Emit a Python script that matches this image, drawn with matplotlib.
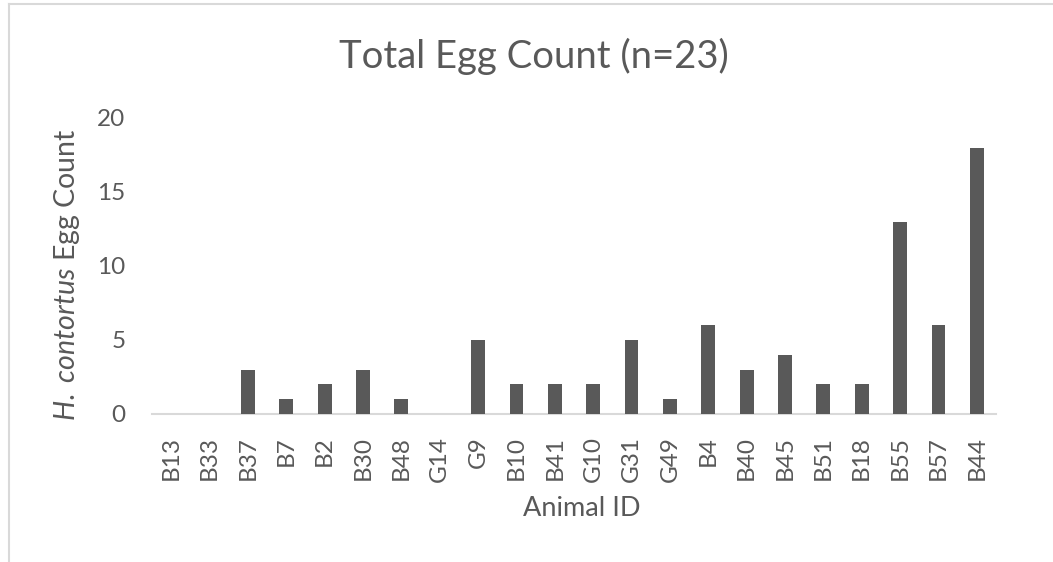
import matplotlib
matplotlib.use("Agg")
import matplotlib.pyplot as plt
from matplotlib.lines import Line2D

# Egg counts per animal
animal_ids = ["B13", "B33", "B37", "B7", "B2", "B30", "B48", "G14", "G9", "B10", "B41",
              "G10", "G31", "G49", "B4", "B40", "B45", "B51", "B18", "B55", "B57", "B44"]
egg_counts = [0, 0, 3, 1, 2, 3, 1, 0, 5, 2, 2, 2, 5, 1, 6, 3, 4, 2, 2, 13, 6, 18]
y_ticks = [0, 5, 10, 15, 20]

plt.rcParams['font.family'] = ['Lato', 'DejaVu Sans']
plt.rcParams['mathtext.fontset'] = 'custom'
plt.rcParams['mathtext.it'] = 'Lato:italic'
plt.rcParams['mathtext.rm'] = 'Lato'

txt = '#595959'
W, H = 1053, 562
fig = plt.figure(figsize=(W / 100, H / 100), dpi=100, facecolor='w')

# plot area in pixel coords
x0, x1, y0, y1 = 152, 996, 414, 118
ax = fig.add_axes([x0 / W, 1 - y0 / H, (x1 - x0) / W, (y0 - y1) / H])

xs = range(len(animal_ids))
ax.bar(xs, egg_counts, width=0.36, color='#595959', zorder=3)

ax.set_xlim(-0.5, len(animal_ids) - 0.5)
ax.set_ylim(0, 20)
ax.set_yticks(y_ticks)
ax.set_xticks(list(xs))
ax.set_xticklabels(animal_ids, rotation=90)

for s in ['top', 'right', 'left']:
    ax.spines[s].set_visible(False)
ax.spines['bottom'].set_color('#d9d9d9')
ax.spines['bottom'].set_linewidth(1.5)
ax.tick_params(axis='both', length=0, colors=txt, labelsize=17.5)
ax.tick_params(axis='y', pad=19)
ax.tick_params(axis='x', pad=16)

fig.text(534 / W, 1 - 56 / H, 'Total Egg Count (n=23)', ha='center', va='center',
         fontsize=27.5, color=txt)
fig.text(582 / W, 1 - 509 / H, 'Animal ID', ha='center', va='center',
         fontsize=19.5, color=txt)
fig.text(67 / W, 1 - 275 / H, r'$\it{H.}$ $\it{contortus}$ Egg Count', ha='center', va='center',
         rotation=90, fontsize=20.5, color=txt)

# chart frame (left and top edges)
fig.add_artist(Line2D([9 / W, 9 / W], [0, 1 - 4 / H], transform=fig.transFigure,
                      color='#d9d9d9', lw=1.5))
fig.add_artist(Line2D([9 / W, 1], [1 - 4 / H, 1 - 4 / H], transform=fig.transFigure,
                      color='#d9d9d9', lw=1.5))

fig.savefig('out.png', dpi=100)
